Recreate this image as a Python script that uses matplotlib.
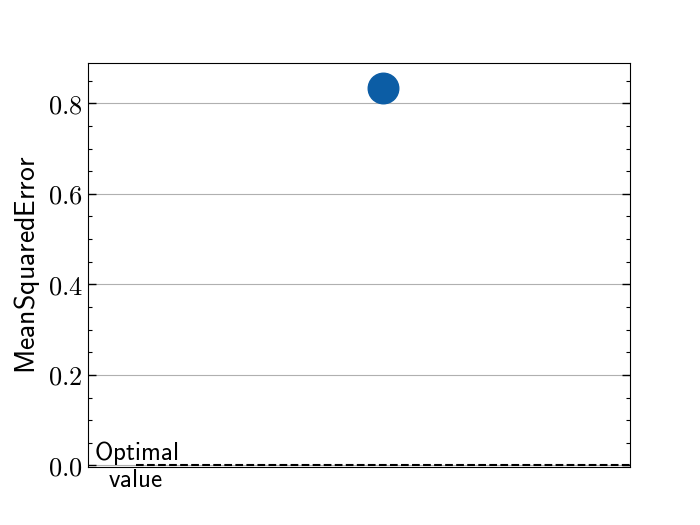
import matplotlib
matplotlib.use("Agg")
import matplotlib.pyplot as plt
from matplotlib.ticker import MultipleLocator

# data
metric_name = "MeanSquaredError"
x_pos = [0]
mse_values = [0.833]
optimal_value = 0.0
y_ticks = [0.0, 0.2, 0.4, 0.6, 0.8]

plt.rcParams["mathtext.fontset"] = "cm"
plt.rcParams["font.family"] = "DejaVu Sans"

fig, ax = plt.subplots(figsize=(7, 5.25), dpi=100)

ax.plot(x_pos, mse_values, marker="o", ms=22, color="#0C5DA5", ls="none", zorder=3)
ax.axhline(optimal_value, xmin=0.09, xmax=1, color="k", ls="--", lw=1.5, zorder=2)
ax.text(0.089, optimal_value, "$\\mathsf{Optimal}$\n$\\mathsf{value}$",
        transform=ax.get_yaxis_transform(),
        ha="center", va="center", fontsize=18, linespacing=1.05)

ax.set_xlim(-0.6, 0.5)
ax.set_ylim(-0.004, 0.889)
ax.set_xticks([])
ax.yaxis.set_minor_locator(MultipleLocator(0.05))
ax.set_yticks(y_ticks)
ax.set_yticklabels([r"$%.1f$" % v for v in y_ticks], fontsize=19)
ax.tick_params(axis="y", which="both", direction="in", left=True, right=True)
ax.tick_params(axis="y", which="major", length=6, width=1)
ax.tick_params(axis="y", which="minor", length=3, width=0.8)
ax.grid(axis="y", color="#b0b0b0", lw=0.8)
ax.set_ylabel(r"$\mathsf{" + metric_name + "}$", fontsize=20)

plt.savefig("out.png", dpi=100)
